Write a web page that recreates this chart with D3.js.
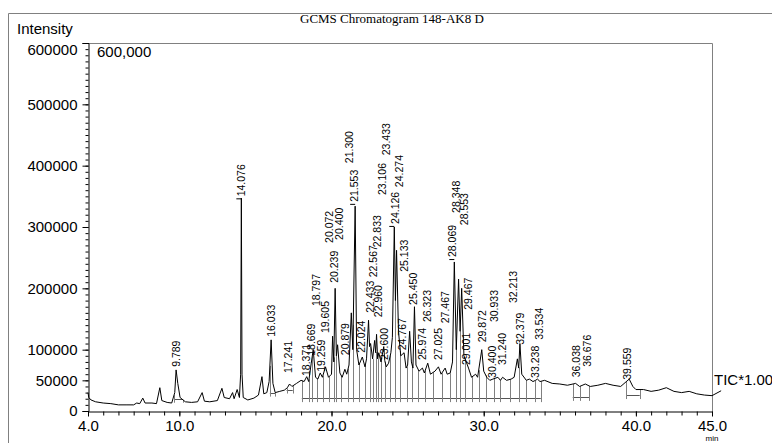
<!DOCTYPE html>
<html><head><meta charset="utf-8">
<script src="https://cdn.jsdelivr.net/npm/d3@7"></script>
<style>
body{margin:0;background:#fff;}
svg{display:block;}
text{font-family:"Liberation Sans",Arial,sans-serif;}
</style></head>
<body><svg id="c" width="772" height="443"></svg>
<script>
// ---- data ----
const title = "GCMS Chromatogram 148-AK8 D";
const yTicks = [0, 50000, 100000, 200000, 300000, 400000, 500000, 600000];
const xTicks = [4, 10, 20, 30, 40, 45];
// labelled peaks: retention time, label text, label foot (intensity), label position (min)
const peakTimes = [9.789,14.076,16.033,17.241,18.371,18.669,18.797,19.259,19.605,20.072,20.239,20.400,20.879,21.300,21.553,22.024,22.433,22.567,22.833,22.960,23.106,23.433,23.600,24.126,24.274,24.767,25.133,25.450,25.974,26.323,27.025,27.467,28.069,28.348,28.553,29.001,29.467,29.872,30.400,30.933,31.240,32.213,32.379,33.238,33.534,36.038,36.676,39.559];
const peakLabels = ["9.789","14.076","16.033","17.241","18.371","18.669","18.797","19.259","19.605","20.072","20.239","20.400","20.879","21.300","21.553","22.024","22.433","22.567","22.833","22.960","23.106","23.433","23.600","24.126","24.274","24.767","25.133","25.450","25.974","26.323","27.025","27.467","28.069","28.348","28.553","29.001","29.467","29.872","30.400","30.933","31.240","32.213","32.379","33.238","33.534","36.038","36.676","39.559"];
const labelLevels = [72000,350000,121000,62000,57000,90000,171000,64000,127000,274000,209000,279000,91000,404000,341000,95000,160000,218000,267000,153000,352000,417000,83000,305000,365000,99000,227000,173000,83000,145000,83000,143000,251000,323000,303000,75000,165000,112000,54000,145000,75000,176000,108000,54000,116000,55000,72000,51000];
const labelTimes = [9.78,14.08,16.02,17.14,18.32,18.65,18.98,19.31,19.57,19.83,20.16,20.49,20.89,21.15,21.48,21.94,22.53,22.73,22.99,23.05,23.32,23.58,23.45,24.17,24.43,24.63,24.76,25.35,25.94,26.27,27.0,27.46,27.92,28.22,28.72,28.84,29.02,29.89,30.58,30.72,31.2,31.92,32.38,33.37,33.63,36.06,36.79,39.41];
const dashedPeaks = ["14.076","21.553","24.126","28.069"];
// TIC trace (min, intensity)
const traceTime = [4.00,4.05,4.2,4.5,5.0,5.5,6.0,6.5,7.0,7.2,7.4,7.6,7.75,8.2,8.5,8.72,8.85,9.2,9.5,9.7,9.789,9.9,10.05,10.4,10.8,11.2,11.5,11.65,12.0,12.5,12.8,12.95,13.3,13.5,13.6,13.8,13.95,14.03,14.076,14.12,14.2,14.5,14.9,15.2,15.43,15.55,15.75,15.9,16.033,16.15,16.3,16.6,16.9,17.1,17.241,17.4,17.7,18.0,18.2,18.371,18.5,18.669,18.797,18.95,19.1,19.259,19.4,19.605,19.8,20.0,20.072,20.15,20.239,20.32,20.400,20.55,20.7,20.879,21.0,21.15,21.300,21.4,21.553,21.65,21.8,22.024,22.2,22.3,22.433,22.5,22.567,22.7,22.833,22.9,22.960,23.03,23.106,23.25,23.433,23.5,23.600,23.75,23.9,24.0,24.126,24.2,24.274,24.4,24.55,24.767,24.9,25.0,25.133,25.25,25.35,25.450,25.55,25.75,25.974,26.1,26.323,26.5,26.8,27.025,27.2,27.467,27.6,27.8,27.95,28.069,28.2,28.348,28.45,28.553,28.7,29.001,29.2,29.467,29.6,29.872,30.0,30.2,30.400,30.6,30.933,31.1,31.240,31.5,31.8,32.0,32.213,32.3,32.379,32.5,32.8,33.0,33.238,33.4,33.534,33.7,34.0,34.5,35.0,35.5,36.038,36.3,36.676,37.0,37.5,38.0,38.5,39.0,39.559,39.8,40.0,40.5,41.0,41.5,42.0,42.5,43.0,43.5,44.0,44.5,45.0,45.6];
const traceValue = [30000,22000,18000,15000,13000,12000,10000,10000,10000,13000,12000,21000,13000,13000,12000,38000,17000,14000,13000,30000,67000,45000,22000,15000,14000,15000,30000,16000,15000,17000,37000,22000,20000,30000,20000,35000,22000,60000,347000,60000,22000,18000,21000,26000,56000,28000,30000,48000,116000,45000,30000,32000,34000,38000,44000,40000,45000,50000,48000,56000,48000,78000,100000,55000,52000,62000,55000,72000,55000,60000,122000,80000,200000,90000,108000,62000,55000,68000,60000,75000,160000,100000,334000,100000,75000,88000,72000,85000,148000,105000,110000,85000,115000,95000,125000,85000,95000,80000,105000,82000,72000,78000,95000,120000,300000,180000,262000,130000,90000,95000,70000,75000,130000,80000,70000,170000,75000,65000,70000,62000,78000,60000,65000,72000,60000,70000,60000,62000,80000,243000,100000,215000,130000,200000,90000,70000,55000,60000,55000,100000,65000,55000,50000,52000,55000,50000,55000,50000,52000,55000,85000,70000,110000,60000,50000,52000,48000,50000,52000,48000,50000,45000,44000,42000,45000,40000,44000,40000,42000,45000,42000,40000,52000,40000,35000,35000,32000,34000,38000,32000,30000,32000,28000,26000,25000,33000];
// integration baselines: start, end, level
const segStart = [9.65, 15.95, 17.05, 18.05, 35.85, 39.35];
const segEnd   = [10.25, 16.3, 17.45, 33.75, 36.95, 40.25];
const segLevel = [20000, 30000, 35000, 21000, 23000, 26000];

// ---- drawing ----
const svg = d3.select("#c");
const x = d3.scaleLinear().domain([4, 45]).range([88, 712]);
const y = d3.scaleLinear().domain([0, 600000]).range([411, 43]);
const grey = "#808080";

// outer frame
svg.append("path").attr("d", "M8.5,443V13.5H772").attr("fill", "none").attr("stroke", grey).attr("stroke-width", 1);
svg.append("text").text(title).attr("x", 300).attr("y", 23)
  .style("font-family", "'Liberation Serif','Times New Roman',serif").style("font-size", "13px").attr("fill", "#000");

// plot frame top/right
svg.append("path").attr("d", `M${x(4)},${y(600000)+0.5}H${x(45)+0.5}V${y(0)}`).attr("fill", "none").attr("stroke", grey);

// y axis
const yMinor = d3.range(0, 600001, 10000);
svg.append("g").attr("transform", `translate(${x(4)+0.5},0)`)
  .call(d3.axisLeft(y).tickValues(yMinor).tickSize(3).tickFormat(""))
  .call(g => g.select(".domain").remove());
svg.append("g").attr("transform", `translate(${x(4)+0.5},0)`)
  .call(d3.axisLeft(y).tickValues(yTicks).tickSize(6).tickPadding(5).tickFormat(d3.format("d")))
  .call(g => g.selectAll("text").style("font-size", "15px").attr("fill", "#000"))
  .call(g => g.selectAll(".tick").filter(d => d === 600000).select("text").attr("dy", "0.75em"));
svg.append("text").text("Intensity").attr("x", 17).attr("y", 34).style("font-size", "15px");

// x axis
svg.append("g").attr("transform", `translate(0,${y(0)+0.5})`)
  .call(d3.axisBottom(x).tickValues(d3.range(4, 46, 1)).tickSize(4).tickFormat(""))
  .call(g => g.select(".domain").remove());
svg.append("g").attr("transform", `translate(0,${y(0)+0.5})`)
  .call(d3.axisBottom(x).tickValues(xTicks).tickSize(5).tickPadding(4).tickSizeOuter(0).tickFormat(d3.format(".1f")))
  .call(g => g.selectAll("text").style("font-size", "15px").attr("fill", "#000"));
svg.append("text").text("min").attr("x", x(45)).attr("y", 441.3).attr("text-anchor", "middle").style("font-size", "8px");

// 600,000 scale text
svg.append("text").text("600,000").attr("x", 97).attr("y", 57).style("font-size", "15px");

// interpolate trace value at time t (for drop lines)
const traceAt = t => {
  const i = d3.bisectLeft(traceTime, t);
  if (i <= 0) return traceValue[0];
  if (i >= traceTime.length) return traceValue[traceValue.length - 1];
  const t0 = traceTime[i-1], t1 = traceTime[i];
  return traceValue[i-1] + (traceValue[i] - traceValue[i-1]) * (t - t0) / (t1 - t0);
};

// integration marks
const marks = svg.append("g").attr("stroke", "#555").attr("stroke-width", 1).attr("fill", "none");
segStart.forEach((s, k) => {
  const e = segEnd[k], lv = segLevel[k];
  marks.append("line").attr("x1", x(s)).attr("x2", x(e)).attr("y1", Math.round(y(lv))+0.5).attr("y2", Math.round(y(lv))+0.5);
  const inside = peakTimes.filter(p => p > s && p < e);
  const bounds = [s];
  for (let i = 0; i < inside.length - 1; i++) bounds.push((inside[i] + inside[i+1]) / 2);
  bounds.push(e);
  bounds.forEach(b => {
    const xb = Math.round(x(b)) + 0.5;
    marks.append("line").attr("x1", xb).attr("x2", xb).attr("y1", y(traceAt(b))).attr("y2", y(lv) + 4).attr("stroke", grey);
  });
});

// trace
const pts = traceTime.map((t, i) => [t, traceValue[i]]);
svg.append("path").datum(pts)
  .attr("d", d3.line().x(d => x(d[0])).y(d => y(d[1])))
  .attr("fill", "none").attr("stroke", "#000").attr("stroke-width", 1);

// peak labels
peakTimes.forEach((t, i) => {
  const px = x(labelTimes[i]), py = y(labelLevels[i]);
  svg.append("text").text(peakLabels[i])
    .attr("transform", `translate(${px},${py}) rotate(-90)`)
    .attr("dy", "0.35em").style("font-size", "10.5px").attr("fill", "#000");
  if (dashedPeaks.includes(peakLabels[i])) {
    svg.append("line").attr("x1", x(t) - 5).attr("x2", x(t)).attr("y1", py + 2.5).attr("y2", py + 2.5)
      .attr("stroke", "#000");
  }
});

// TIC label
svg.append("text").text("TIC*1.00").attr("x", 714).attr("y", 385).style("font-size", "15px");
</script></body></html>
